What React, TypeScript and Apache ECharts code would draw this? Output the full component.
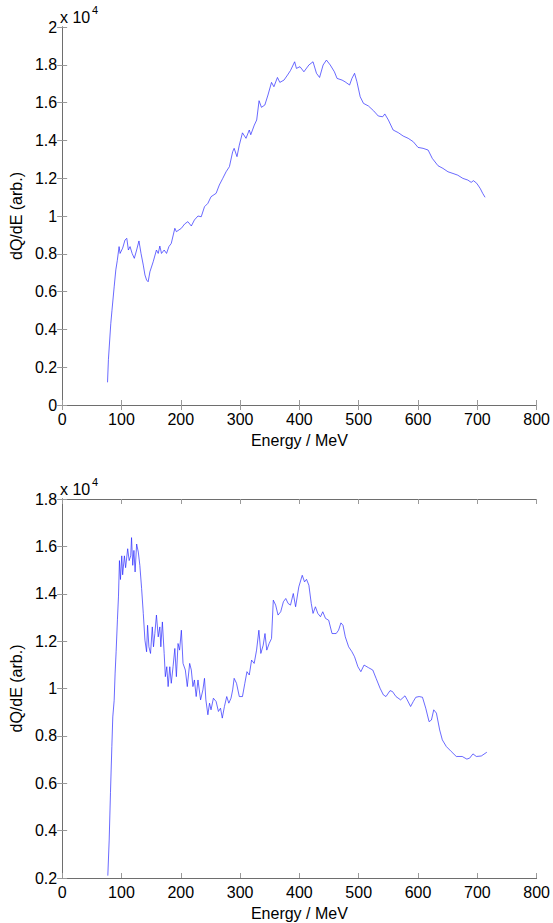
import React, { useEffect, useRef } from "react";
import * as echarts from "echarts";

const xTicks = [0, 100, 200, 300, 400, 500, 600, 700, 800];

const topEnergy = [76.5, 78, 82, 84, 87.7, 90.5, 93, 96, 97.7, 102, 106, 109, 111.7, 114.5, 118, 121.7, 125.6, 129.5, 133, 136.8, 139.6, 142.4, 145, 148, 153.5, 159, 162, 164.7, 167.5, 172, 176, 180, 184, 190, 192.6, 201, 206.6, 212, 217.8, 223, 229, 234.5, 240, 245.7, 251, 259.6, 265, 270.8, 276.4, 282, 287.5, 290, 294.8, 298.7, 304, 310, 315.5, 318, 324, 328, 332, 336, 341.7, 347, 353, 357, 363, 367, 374, 380, 385, 392, 395, 401, 407.6, 416, 423, 428.8, 434, 440, 445.6, 452, 459, 463.5, 472, 477, 484.6, 488.6, 493, 497, 502.5, 508, 516.4, 525, 533, 540.5, 544, 550, 558, 566.7, 575, 583.4, 592, 600, 608.5, 617, 624, 633.7, 642, 650.5, 659, 667, 675.6, 684, 689.6, 693.5, 699, 704.8, 709, 713];
const topDQ = [1200, 2400, 4300, 5000, 6250, 7150, 7650, 8380, 8020, 8300, 8730, 8820, 8200, 8380, 8020, 7760, 8200, 8680, 8020, 7400, 6880, 6610, 6520, 7050, 7580, 8200, 8020, 8410, 8020, 8200, 8020, 8380, 8550, 9350, 9170, 9350, 9580, 9700, 9470, 9790, 10000, 9960, 10490, 10670, 11020, 11200, 11640, 11990, 12340, 12610, 13400, 13580, 13140, 13750, 14400, 14110, 14550, 14300, 14810, 15080, 16100, 15750, 15870, 16400, 17070, 16840, 17330, 17070, 17190, 17460, 17700, 18160, 17810, 17900, 17630, 17990, 18160, 17550, 17330, 17990, 18250, 17990, 17630, 17280, 17190, 17100, 16930, 17280, 17550, 17100, 16310, 15960, 15820, 15570, 15290, 15250, 15400, 15080, 14550, 14410, 14230, 14110, 13930, 13630, 13580, 13490, 13050, 12660, 12520, 12340, 12250, 12160, 11990, 11900, 11780, 11870, 11730, 11460, 11200, 10990];

const bottomEnergy = [77, 79.3, 81.5, 83.8, 85.4, 87.7, 89.3, 91, 93.2, 95, 96.6, 98.3, 100.5, 102, 105, 107, 110.5, 113, 115.6, 117, 119, 121, 123, 125.6, 128.4, 131, 134, 136.8, 139.6, 142.4, 144, 146.3, 149, 152, 154, 156.3, 159, 162, 164.7, 166.4, 169, 172, 174, 176.4, 178.7, 181.5, 184, 187, 190, 192.6, 195.4, 198, 201, 203.8, 207.7, 211, 215, 217.8, 220.5, 223, 226, 229, 233.4, 237.3, 240, 242.3, 245.7, 248.5, 251, 255, 259.6, 263.5, 267, 270, 273.6, 277.5, 281, 284.7, 287.5, 290, 294, 298.7, 304, 308, 311.6, 315.5, 319.4, 323.8, 327.8, 331.7, 335, 339, 342, 345, 349, 353, 356, 360, 364, 368.5, 373, 377, 381, 385, 389.7, 393.6, 399, 404.8, 408.7, 412, 416, 420, 423, 427, 431, 435.5, 439.4, 444, 449.4, 455, 462, 466, 470, 473.5, 477.4, 483, 488.6, 493, 498.6, 503.6, 509, 516.4, 523.7, 529.3, 536, 541.6, 546, 552.8, 557, 562.8, 570.6, 578, 581.8, 587.5, 592, 596.3, 601.9, 607.5, 613, 618.6, 622.6, 626.5, 631, 636.5, 641, 647.7, 656, 664.5, 674.5, 682.3, 687, 692.6, 698.3, 706.6, 716];
const bottomDQ = [2100, 3600, 5600, 7550, 8800, 9500, 10650, 11550, 12900, 13900, 15400, 14600, 15600, 14800, 15600, 15100, 15900, 15400, 15600, 16370, 15200, 15830, 14920, 16100, 15760, 15200, 14220, 13170, 12040, 11550, 12670, 11760, 11480, 12600, 11760, 12320, 13100, 12180, 12600, 11760, 12810, 11480, 10500, 10920, 10080, 10920, 10220, 10920, 11690, 10500, 11900, 11620, 12460, 11060, 10780, 10080, 11060, 10780, 10080, 10360, 9660, 10360, 9520, 9940, 10430, 9520, 8890, 9380, 9100, 9590, 9450, 9030, 9170, 8750, 9240, 9660, 9380, 9590, 9940, 10430, 10220, 9660, 9660, 10220, 10710, 10570, 11200, 11060, 11620, 12460, 11480, 11830, 12320, 11620, 11900, 12110, 13730, 13520, 13100, 13240, 13660, 13800, 13590, 13520, 14010, 13450, 14290, 14780, 14500, 14610, 14360, 13590, 13170, 13450, 13170, 13030, 13240, 12960, 12880, 12320, 12320, 12460, 12770, 12670, 12180, 11760, 11550, 11340, 10920, 10710, 10990, 10880, 10780, 10430, 10010, 9730, 9660, 9910, 9870, 9660, 9520, 9690, 9520, 9240, 9450, 9630, 9660, 9630, 9170, 8600, 8670, 9100, 8960, 8250, 7830, 7550, 7340, 7130, 7130, 7020, 7060, 7240, 7130, 7150, 7310];

const FONT = "Liberation Sans, Arial, sans-serif";
const AXIS_COLOR = "#6e6e6e";

function fmtY(v: number) {
  return String(Math.round(v / 1000) / 10);
}

export default function App() {
  const ref = useRef<HTMLDivElement>(null);
  useEffect(() => {
    document.body.style.margin = "0";
    const chart = echarts.init(ref.current!, null, { renderer: "svg" });

    const grids = [
      { left: 60, top: 27, width: 477.5, height: 378 },
      { left: 60, top: 499, width: 478, height: 379 },
    ];
    const yRanges = [
      { min: 0, max: 20000 },
      { min: 2000, max: 18000 },
    ];
    const xAxes: any[] = [];
    const yAxes: any[] = [];
    grids.forEach((_, gi) => {
      xAxes.push({
        gridIndex: gi,
        type: "value",
        position: "bottom",
        min: xTicks[0],
        max: xTicks[xTicks.length - 1],
        interval: 100,
        axisLine: { show: true, lineStyle: { color: AXIS_COLOR, width: 1 } },
        axisTick: { show: true, inside: true, length: 5, lineStyle: { color: "#9a9a9a" } },
        axisLabel: { color: "#000", fontFamily: FONT, fontSize: 16, margin: 6 },
        splitLine: { show: false },
        name: "Energy / MeV",
        nameLocation: "middle",
        nameGap: 27,
        nameTextStyle: { color: "#000", fontFamily: FONT, fontSize: 16 },
      });
      xAxes.push({
        gridIndex: gi,
        type: "value",
        position: "top",
        min: xTicks[0],
        max: xTicks[xTicks.length - 1],
        interval: 100,
        axisLine: { show: true, lineStyle: { color: AXIS_COLOR, width: 1 } },
        axisTick: { show: true, inside: true, length: 5, lineStyle: { color: "#9a9a9a" } },
        axisLabel: { show: false },
        splitLine: { show: false },
      });
      yAxes.push({
        gridIndex: gi,
        type: "value",
        position: "left",
        min: yRanges[gi].min,
        max: yRanges[gi].max,
        interval: 2000,
        axisLine: { show: true, lineStyle: { color: AXIS_COLOR, width: 1 } },
        axisTick: { show: true, inside: true, length: 5, lineStyle: { color: "#9a9a9a" } },
        axisLabel: { color: "#000", fontFamily: FONT, fontSize: 16, margin: 5, formatter: fmtY },
        splitLine: { show: false },
        name: "dQ/dE (arb.)",
        nameLocation: "middle",
        nameRotate: 90,
        nameGap: 34,
        nameTextStyle: { color: "#000", fontFamily: FONT, fontSize: 16 },
      });
      yAxes.push({
        gridIndex: gi,
        type: "value",
        position: "right",
        min: yRanges[gi].min,
        max: yRanges[gi].max,
        interval: 2000,
        axisLine: { show: true, lineStyle: { color: AXIS_COLOR, width: 1 } },
        axisTick: { show: true, inside: true, length: 5, lineStyle: { color: "#9a9a9a" } },
        axisLabel: { show: false },
        splitLine: { show: false },
      });
    });

    const topData = topEnergy.map((e, i) => [e, topDQ[i]]);
    const bottomData = bottomEnergy.map((e, i) => [e, bottomDQ[i]]);

    const lineStyle = { color: "#2a2aff", width: 0.7 };

    chart.setOption({
      animation: false,
      backgroundColor: "#ffffff",
      grid: grids,
      xAxis: xAxes,
      yAxis: yAxes,
      series: [
        {
          type: "line",
          xAxisIndex: 0,
          yAxisIndex: 0,
          data: topData,
          showSymbol: false,
          symbol: "none",
          lineStyle,
        },
        {
          type: "line",
          xAxisIndex: 2,
          yAxisIndex: 2,
          data: bottomData,
          showSymbol: false,
          symbol: "none",
          lineStyle,
        },
      ],
      graphic: [
        { type: "text", left: 60, top: 9, style: { text: "x 10", fontFamily: FONT, fontSize: 16, fill: "#000" } },
        { type: "text", left: 92, top: 4, style: { text: "4", fontFamily: FONT, fontSize: 11, fill: "#000" } },
        { type: "text", left: 60, top: 481, style: { text: "x 10", fontFamily: FONT, fontSize: 16, fill: "#000" } },
        { type: "text", left: 92, top: 476, style: { text: "4", fontFamily: FONT, fontSize: 11, fill: "#000" } },
      ],
    });
    return () => chart.dispose();
  }, []);
  return <div ref={ref} style={{ width: 553, height: 923, position: "absolute", left: 0, top: 0 }} />;
}
